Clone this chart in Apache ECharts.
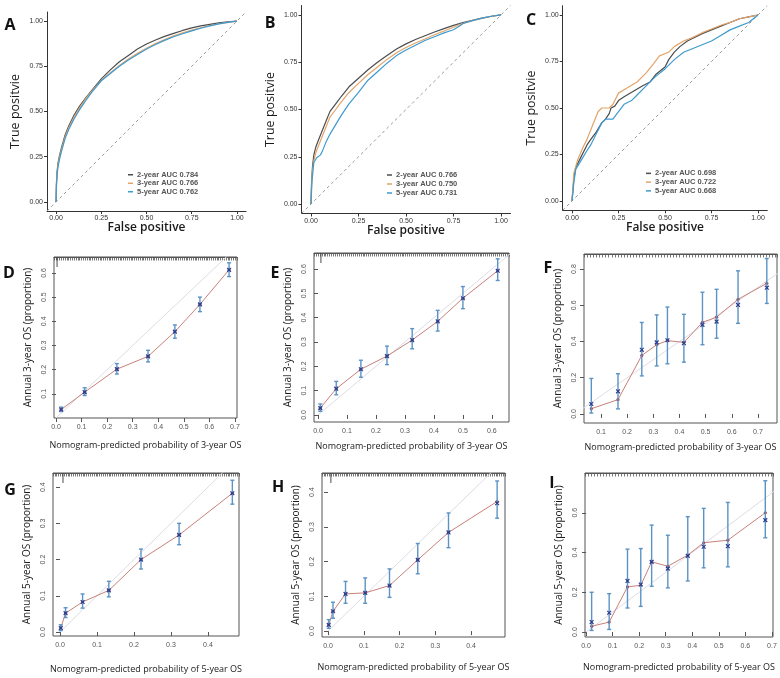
<!DOCTYPE html>
<html><head><meta charset="utf-8">
<script src="https://cdn.jsdelivr.net/npm/echarts@6/dist/echarts.min.js"></script>
<style>html,body{margin:0;padding:0;background:#fff}#c{width:780px;height:678px}</style>
</head><body><div id="c"></div><script>
// ---------- ROC data ----------
const yearNames = ['2-year', '3-year', '5-year'];
const aucA = ['0.784', '0.766', '0.762'];
const aucB = ['0.766', '0.750', '0.731'];
const aucC = ['0.698', '0.722', '0.668'];
const rocTicks = [0, 0.25, 0.5, 0.75, 1];
const rocDiag = [[-0.05, -0.05], [1.05, 1.05]];

const rocA2 = [[0,0],[0.002,0.1],[0.005,0.16],[0.01,0.21],[0.02,0.26],[0.03,0.3],[0.05,0.37],[0.07,0.42],[0.1,0.48],[0.13,0.53],[0.16,0.57],[0.2,0.62],[0.25,0.68],[0.3,0.73],[0.35,0.775],[0.4,0.81],[0.45,0.845],[0.5,0.873],[0.55,0.895],[0.6,0.915],[0.65,0.932],[0.7,0.948],[0.75,0.962],[0.8,0.973],[0.85,0.982],[0.9,0.99],[0.95,0.996],[1,1]];
const rocA3 = [[0,0],[0.002,0.09],[0.005,0.15],[0.01,0.2],[0.02,0.25],[0.03,0.29],[0.05,0.36],[0.07,0.41],[0.1,0.47],[0.13,0.52],[0.16,0.565],[0.2,0.615],[0.25,0.672],[0.3,0.715],[0.35,0.755],[0.4,0.79],[0.45,0.822],[0.5,0.85],[0.55,0.875],[0.6,0.898],[0.65,0.918],[0.7,0.935],[0.75,0.95],[0.8,0.963],[0.85,0.975],[0.9,0.985],[0.95,0.993],[1,1]];
const rocA5 = [[0,0],[0.002,0.08],[0.005,0.14],[0.01,0.19],[0.02,0.24],[0.03,0.28],[0.05,0.35],[0.07,0.4],[0.1,0.46],[0.13,0.51],[0.16,0.555],[0.2,0.61],[0.25,0.67],[0.3,0.71],[0.35,0.75],[0.4,0.785],[0.45,0.815],[0.5,0.845],[0.55,0.87],[0.6,0.893],[0.65,0.913],[0.7,0.93],[0.75,0.946],[0.8,0.96],[0.85,0.973],[0.9,0.984],[0.95,0.993],[1,1]];

const rocB2 = [[0,0],[0.003,0.12],[0.008,0.2],[0.015,0.26],[0.025,0.3],[0.04,0.34],[0.06,0.39],[0.08,0.44],[0.1,0.49],[0.13,0.53],[0.16,0.57],[0.2,0.62],[0.25,0.665],[0.3,0.71],[0.35,0.75],[0.4,0.785],[0.45,0.82],[0.5,0.847],[0.55,0.87],[0.6,0.89],[0.65,0.91],[0.7,0.928],[0.75,0.945],[0.8,0.96],[0.85,0.972],[0.9,0.983],[0.95,0.993],[1,1]];
const rocB3 = [[0,0],[0.003,0.1],[0.008,0.18],[0.015,0.23],[0.025,0.27],[0.04,0.31],[0.06,0.36],[0.08,0.41],[0.1,0.46],[0.13,0.5],[0.16,0.54],[0.2,0.59],[0.25,0.638],[0.3,0.685],[0.35,0.725],[0.4,0.765],[0.45,0.8],[0.5,0.828],[0.55,0.852],[0.6,0.873],[0.65,0.895],[0.7,0.915],[0.75,0.935],[0.8,0.955],[0.85,0.97],[0.9,0.982],[0.95,0.993],[1,1]];
const rocB5 = [[0,0],[0.005,0.12],[0.015,0.22],[0.03,0.245],[0.05,0.26],[0.06,0.28],[0.08,0.33],[0.1,0.37],[0.13,0.42],[0.16,0.47],[0.2,0.53],[0.25,0.59],[0.3,0.655],[0.35,0.7],[0.4,0.745],[0.45,0.785],[0.5,0.815],[0.55,0.84],[0.6,0.865],[0.65,0.885],[0.7,0.905],[0.75,0.922],[0.78,0.94],[0.8,0.955],[0.85,0.97],[0.9,0.983],[0.95,0.993],[1,1]];

const rocC2 = [[0,0],[0.01,0.12],[0.02,0.18],[0.05,0.24],[0.08,0.3],[0.1,0.33],[0.13,0.37],[0.16,0.42],[0.18,0.44],[0.2,0.47],[0.21,0.5],[0.23,0.51],[0.25,0.54],[0.28,0.56],[0.33,0.59],[0.38,0.62],[0.42,0.64],[0.45,0.68],[0.5,0.72],[0.52,0.76],[0.55,0.8],[0.58,0.83],[0.62,0.86],[0.65,0.875],[0.7,0.9],[0.75,0.92],[0.8,0.94],[0.85,0.96],[0.9,0.98],[0.95,0.99],[1,1]];
const rocC3 = [[0,0],[0.01,0.15],[0.03,0.22],[0.06,0.29],[0.08,0.33],[0.1,0.38],[0.12,0.43],[0.14,0.48],[0.16,0.5],[0.2,0.5],[0.22,0.52],[0.25,0.58],[0.3,0.61],[0.35,0.64],[0.4,0.69],[0.44,0.74],[0.47,0.78],[0.52,0.8],[0.55,0.83],[0.6,0.86],[0.65,0.88],[0.7,0.905],[0.75,0.925],[0.8,0.945],[0.85,0.96],[0.9,0.98],[0.95,0.99],[1,1]];
const rocC5 = [[0,0],[0.01,0.1],[0.02,0.17],[0.05,0.22],[0.08,0.27],[0.1,0.3],[0.13,0.36],[0.16,0.42],[0.18,0.44],[0.22,0.44],[0.25,0.48],[0.28,0.52],[0.32,0.54],[0.35,0.57],[0.4,0.62],[0.45,0.67],[0.5,0.71],[0.55,0.76],[0.6,0.8],[0.65,0.82],[0.7,0.84],[0.75,0.86],[0.8,0.89],[0.85,0.92],[0.9,0.94],[0.95,0.96],[1,1]];

// ---------- Calibration data ----------
const idealLine = [[0, 0], [1, 1]];
const predD = [0.02, 0.112, 0.238, 0.36, 0.465, 0.563, 0.677];
const obsD  = [0.035, 0.107, 0.202, 0.255, 0.357, 0.47, 0.613];
const loD   = [0.027, 0.093, 0.182, 0.232, 0.33, 0.44, 0.585];
const hiD   = [0.045, 0.125, 0.225, 0.28, 0.385, 0.5, 0.642];

const predE = [0.008, 0.063, 0.148, 0.238, 0.325, 0.413, 0.5, 0.62];
const obsE  = [0.028, 0.108, 0.188, 0.242, 0.308, 0.385, 0.48, 0.593];
const loE   = [0.015, 0.083, 0.155, 0.207, 0.272, 0.345, 0.437, 0.553];
const hiE   = [0.045, 0.138, 0.225, 0.283, 0.355, 0.43, 0.528, 0.642];

const predF = [0.063, 0.165, 0.256, 0.313, 0.354, 0.417, 0.488, 0.542, 0.624, 0.734];
const appF  = [0.029, 0.079, 0.323, 0.382, 0.405, 0.395, 0.506, 0.534, 0.633, 0.721];
const obsF  = [0.055, 0.125, 0.354, 0.395, 0.407, 0.39, 0.492, 0.51, 0.602, 0.697];
const loF   = [0.005, 0.028, 0.21, 0.265, 0.277, 0.286, 0.382, 0.418, 0.5, 0.61];
const hiF   = [0.196, 0.222, 0.505, 0.547, 0.59, 0.55, 0.672, 0.688, 0.79, 0.858];

const predG = [0.002, 0.015, 0.061, 0.132, 0.219, 0.322, 0.466];
const obsG  = [0.011, 0.052, 0.083, 0.115, 0.2, 0.268, 0.383];
const loG   = [0.004, 0.04, 0.066, 0.097, 0.174, 0.241, 0.353];
const hiG   = [0.02, 0.067, 0.105, 0.14, 0.229, 0.3, 0.419];

const predH = [0.002, 0.014, 0.049, 0.104, 0.172, 0.251, 0.337, 0.473];
const appH  = [0.018, 0.057, 0.107, 0.11, 0.131, 0.205, 0.284, 0.373];
const obsH  = [0.018, 0.057, 0.107, 0.11, 0.131, 0.205, 0.284, 0.368];
const loH   = [0.008, 0.037, 0.08, 0.08, 0.097, 0.165, 0.24, 0.325];
const hiH   = [0.033, 0.083, 0.143, 0.153, 0.179, 0.252, 0.34, 0.432];

const predI = [0.021, 0.087, 0.156, 0.206, 0.247, 0.308, 0.383, 0.443, 0.534, 0.675];
const appI  = [0.029, 0.05, 0.227, 0.235, 0.353, 0.331, 0.387, 0.449, 0.462, 0.6];
const obsI  = [0.05, 0.097, 0.257, 0.239, 0.353, 0.319, 0.383, 0.429, 0.432, 0.563];
const loI   = [0.008, 0.013, 0.121, 0.129, 0.23, 0.222, 0.257, 0.323, 0.328, 0.474];
const hiI   = [0.2, 0.193, 0.417, 0.42, 0.538, 0.487, 0.58, 0.622, 0.652, 0.761];

const ticksX07 = [0, 0.1, 0.2, 0.3, 0.4, 0.5, 0.6, 0.7];
const ticksX06 = [0, 0.1, 0.2, 0.3, 0.4, 0.5, 0.6];
const ticksX17 = [0.1, 0.2, 0.3, 0.4, 0.5, 0.6, 0.7];
const ticksX04 = [0, 0.1, 0.2, 0.3, 0.4];
const ticksY16 = [0.1, 0.2, 0.3, 0.4, 0.5, 0.6];
const ticksY06 = [0, 0.1, 0.2, 0.3, 0.4, 0.5, 0.6];
const ticksY08 = [0, 0.2, 0.4, 0.6, 0.8];
const ticksY04 = [0, 0.1, 0.2, 0.3, 0.4];
const ticksY0_6 = [0, 0.2, 0.4, 0.6];

// ---------- layout / style ----------
const TITLEFONT = "'Open Sans', 'Noto Sans', sans-serif";
const TICKFONT = "'Liberation Sans', Arial, sans-serif";
const rocColors = ['#4d4d4d', '#e2a46a', '#3d9bd0'];

const grid = [], xAxis = [], yAxis = [], series = [], legend = [], graphic = [];

const rocPanels = [
  {id:'A', g:{left:47, top:12, width:199, height:199}, curves:[rocA2, rocA3, rocA5], auc:aucA, leg:{left:128, top:170.5, gap:8.5}, letter:[10, 25]},
  {id:'B', g:{left:301.5, top:5.5, width:209, height:208}, curves:[rocB2, rocB3, rocB5], auc:aucB, leg:{left:387, top:170.5, gap:9}, letter:[270, 23]},
  {id:'C', g:{left:562.7, top:5.7, width:204.6, height:204.6}, curves:[rocC2, rocC3, rocC5], auc:aucC, leg:{left:646, top:169, gap:8.75}, letter:[531, 20]}
];

const legendText = {};
rocPanels.forEach(p => {
  const gi = grid.length;
  grid.push(Object.assign({show:false, containLabel:false, outerBoundsMode:'none'}, p.g));
  xAxis.push({type:'value', gridIndex:gi, min:-0.05, max:1.05,
    axisLine:{show:true, onZero:false, lineStyle:{color:'#333', width:1}},
    axisTick:{show:true, customValues:rocTicks, length:3, lineStyle:{color:'#333'}},
    axisLabel:{customValues:rocTicks, formatter:v => v.toFixed(2), fontSize:7, color:'#333', margin:4, fontFamily:TICKFONT},
    splitLine:{show:false},
    name:'False positive', nameLocation:'middle', nameGap:11, nameMoveOverlap:false,
    nameTextStyle:{fontSize:12, fontWeight:600, color:'#1a1a1a', fontFamily:TITLEFONT}});
  yAxis.push({type:'value', gridIndex:gi, min:-0.05, max:1.05,
    axisLine:{show:true, onZero:false, lineStyle:{color:'#333', width:1}},
    axisTick:{show:true, customValues:rocTicks, length:3, lineStyle:{color:'#333'}},
    axisLabel:{customValues:rocTicks, formatter:v => v.toFixed(2), fontSize:7, color:'#333', margin:4, fontFamily:TICKFONT},
    splitLine:{show:false},
    name:'True positvie', nameLocation:'middle', nameGap:25, nameMoveOverlap:false,
    nameTextStyle:{fontSize:12.5, color:'#1a1a1a', fontFamily:TITLEFONT}});
  series.push({type:'line', xAxisIndex:gi, yAxisIndex:gi, data:rocDiag, showSymbol:false, silent:true,
    lineStyle:{color:'#9a9a9a', width:1, type:[3, 3]}});
  const names = [];
  p.curves.forEach((c, k) => {
    const nm = p.id + k;
    names.push(nm);
    legendText[nm] = yearNames[k] + ' AUC ' + p.auc[k];
    series.push({name:nm, type:'line', xAxisIndex:gi, yAxisIndex:gi, data:c, showSymbol:false, silent:true,
      color:rocColors[k], lineStyle:{color:rocColors[k], width:1.2}});
  });
  legend.push({data:names, orient:'vertical', left:p.leg.left, top:p.leg.top, itemGap:0, padding:0,
    icon:'rect', itemWidth:5, itemHeight:1.5, selectedMode:false,
    formatter:n => legendText[n],
    textStyle:{fontSize:7.5, fontWeight:'bold', color:'#555', fontFamily:TICKFONT, lineHeight:p.leg.gap, padding:[0,0,0,-1]}});
  graphic.push({type:'text', x:p.letter[0], y:p.letter[1], style:{text:p.id, align:'center', verticalAlign:'middle', font:"bold 16px 'Open Sans', sans-serif", fill:'#111'}});
});

const calPanels = [
  {id:'D', g:{left:54, top:257, width:183, height:161}, xr:[-0.008, 0.708], yr:[0, 0.666], xt:ticksX07, yt:ticksY16, pred:predD, app:obsD, obs:obsD, lo:loD, hi:hiD, spike:0.004, rug:0.01, yr3:3, xGap:23, letter:[9, 273]},
  {id:'E', g:{left:314, top:253, width:195, height:169}, xr:[-0.0138, 0.659], yr:[-0.029, 0.666], xt:ticksX06, yt:ticksY06, pred:predE, app:obsE, obs:obsE, lo:loE, hi:hiE, spike:0.01, rug:0.01, yr3:3, xGap:20, letter:[275, 273]},
  {id:'F', g:{left:584, top:254, width:193, height:169}, xr:[0.035, 0.773], yr:[-0.05, 0.883], xt:ticksX17, yt:ticksY08, pred:predF, app:appF, obs:obsF, lo:loF, hi:hiF, spike:null, rug:0.016, yr3:3, xGap:20, letter:[548, 268]},
  {id:'G', g:{left:53, top:473, width:186, height:163}, xr:[-0.019, 0.484], yr:[-0.011, 0.439], xt:ticksX04, yt:ticksY04, pred:predG, app:obsG, obs:obsG, lo:loG, hi:hiG, spike:0.008, rug:0.01, yr3:5, xGap:29, letter:[10, 490]},
  {id:'H', g:{left:322, top:473, width:183, height:164}, xr:[-0.0168, 0.495], yr:[-0.017, 0.455], xt:ticksX04, yt:ticksY04, pred:predH, app:appH, obs:obsH, lo:loH, hi:hiH, spike:0.008, rug:0.01, yr3:5, xGap:26, letter:[278, 487]},
  {id:'I', g:{left:585, top:473, width:188, height:164}, xr:[-0.004, 0.704], yr:[-0.025, 0.80], xt:ticksX07, yt:ticksY0_6, pred:predI, app:appI, obs:obsI, lo:loI, hi:hiI, spike:null, rug:0.016, yr3:5, xGap:26, letter:[552, 483]}
];

function errRender(params, api) {
  const x = api.value(0), lo = api.value(1), hi = api.value(2), ob = api.value(3);
  const a = api.coord([x, lo]), b = api.coord([x, hi]), c = api.coord([x, ob]);
  const eb = {stroke:'#5b93c4', lineWidth:1.4};
  const cap = 2, m = 1.9;
  const mk = {stroke:'#2b3d8f', lineWidth:1.2};
  return {type:'group', children:[
    {type:'line', shape:{x1:a[0], y1:a[1], x2:b[0], y2:b[1]}, style:eb},
    {type:'line', shape:{x1:a[0]-cap, y1:a[1], x2:a[0]+cap, y2:a[1]}, style:eb},
    {type:'line', shape:{x1:b[0]-cap, y1:b[1], x2:b[0]+cap, y2:b[1]}, style:eb},
    {type:'line', shape:{x1:c[0]-m, y1:c[1]-m, x2:c[0]+m, y2:c[1]+m}, style:mk},
    {type:'line', shape:{x1:c[0]-m, y1:c[1]+m, x2:c[0]+m, y2:c[1]-m}, style:mk}
  ]};
}

calPanels.forEach(p => {
  const gi = grid.length;
  grid.push(Object.assign({show:true, borderColor:'#555', borderWidth:1, backgroundColor:'transparent', containLabel:false, outerBoundsMode:'none'}, p.g));
  const xi = xAxis.length;
  xAxis.push({type:'value', gridIndex:gi, position:'bottom', min:p.xr[0], max:p.xr[1],
    axisLine:{show:false},
    axisTick:{show:true, customValues:p.xt, length:4, lineStyle:{color:'#555'}},
    axisLabel:{customValues:p.xt, formatter:v => v.toFixed(1), fontSize:7, color:'#555', margin:6, fontFamily:TICKFONT},
    splitLine:{show:false},
    name:'Nomogram-predicted probability of ' + p.yr3 + '-year OS', nameLocation:'middle', nameGap:p.xGap, nameMoveOverlap:false,
    nameTextStyle:{fontSize:9, color:'#1a1a1a', fontFamily:TITLEFONT}});
  xAxis.push({type:'value', gridIndex:gi, position:'top', show:true, min:0, max:1, interval:p.rug,
    axisLine:{show:true, onZero:false, lineStyle:{color:'#555', width:1}}, axisLabel:{show:false}, splitLine:{show:false},
    axisTick:{show:true, inside:true, length:3.5, lineStyle:{color:'#555', width:0.8}}});
  yAxis.push({type:'value', gridIndex:gi, min:p.yr[0], max:p.yr[1],
    axisLine:{show:false},
    axisTick:{show:true, customValues:p.yt, length:4, lineStyle:{color:'#555'}},
    axisLabel:{customValues:p.yt, formatter:v => v.toFixed(1), fontSize:7, color:'#555', margin:6, rotate:90, fontFamily:TICKFONT},
    splitLine:{show:false},
    name:'Annual ' + p.yr3 + '-year OS (proportion)', nameLocation:'middle', nameGap:21, nameMoveOverlap:false,
    nameTextStyle:{fontSize:10, color:'#1a1a1a', fontFamily:TITLEFONT}});
  series.push({type:'line', xAxisIndex:xi, yAxisIndex:gi, data:idealLine, showSymbol:false, silent:true, clip:true,
    lineStyle:{color:'#dcdce6', width:1}});
  series.push({type:'line', xAxisIndex:xi, yAxisIndex:gi, data:p.pred.map((x, k) => [x, p.app[k]]), silent:true,
    symbol:'circle', symbolSize:3.2, showSymbol:true,
    lineStyle:{color:'#c8817a', width:1}, itemStyle:{color:'#a4434f'}});
  series.push({type:'custom', xAxisIndex:xi, yAxisIndex:gi, silent:true, renderItem:errRender,
    encode:{x:0, y:1}, data:p.pred.map((x, k) => [x, p.lo[k], p.hi[k], p.obs[k]]), z:5});
  if (p.spike !== null) {
    series.push({type:'scatter', xAxisIndex:xi, yAxisIndex:gi, silent:true, data:[[p.spike, p.yr[1]]],
      symbol:'rect', symbolSize:[1.2, 10], symbolOffset:[0, 5], itemStyle:{color:'#444'}});
  }
  graphic.push({type:'text', x:p.letter[0], y:p.letter[1], style:{text:p.id, align:'center', verticalAlign:'middle', font:"bold 16px 'Open Sans', sans-serif", fill:'#111'}});
});

const chart = echarts.init(document.getElementById('c'), null, {renderer:'canvas', width:780, height:678});
chart.setOption({animation:false, backgroundColor:'#fff', grid, xAxis, yAxis, series, legend, graphic});
</script></body></html>
